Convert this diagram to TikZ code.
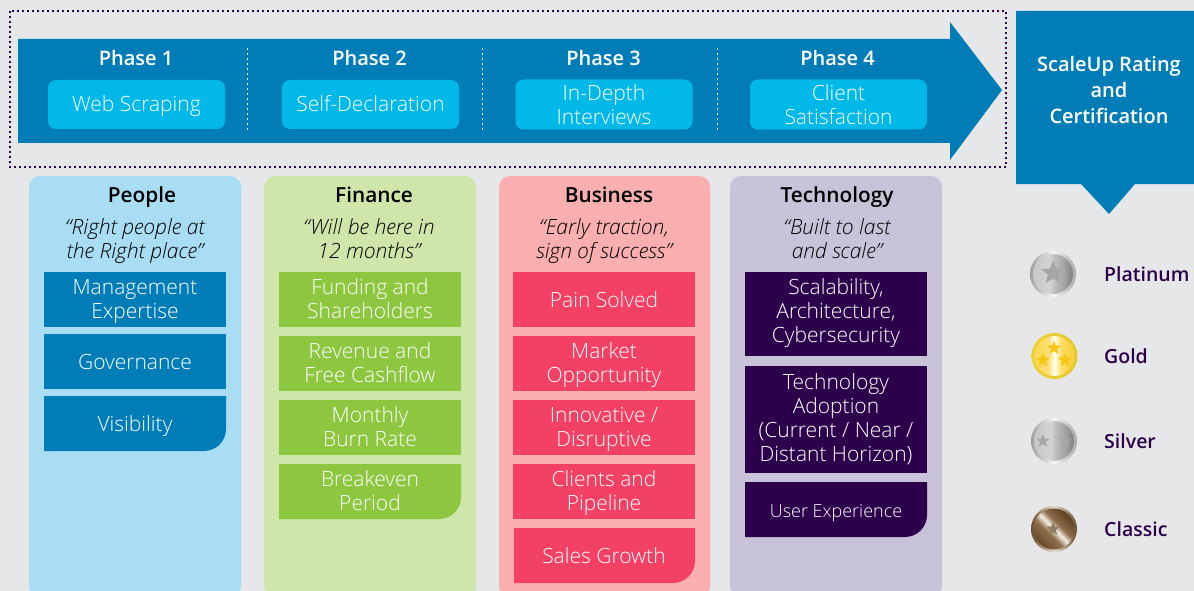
\documentclass[tikz,border=0pt]{standalone}
\usepackage{fontspec}
\setmainfont{Open Sans}
\newfontfamily\lightfont{Open Sans Light}
\newfontfamily\semifont{Open Sans Semibold}
\usetikzlibrary{shapes.geometric}
\definecolor{pagegrey}{HTML}{E6E7E9}
\definecolor{arrowblue}{HTML}{007DB7}
\definecolor{phasecyan}{HTML}{00B9E9}
\definecolor{peoplebg}{HTML}{A8DDF4}
\definecolor{financebg}{HTML}{CFE6AB}
\definecolor{financeitem}{HTML}{8DC63F}
\definecolor{businessbg}{HTML}{F9AFAF}
\definecolor{businessitem}{HTML}{F34165}
\definecolor{techbg}{HTML}{C8C3D8}
\definecolor{techitem}{HTML}{2D004B}
\definecolor{goldstar}{HTML}{F5C518}
\definecolor{silverstar}{HTML}{A6A6A6}
\definecolor{classicstar}{HTML}{8F7B66}
\pgfdeclarehorizontalshading{silvercoin}{100bp}{rgb(0bp)=(.78,.78,.78); rgb(25bp)=(.78,.78,.78); rgb(46bp)=(.83,.83,.83); rgb(54bp)=(.72,.72,.72); rgb(62bp)=(.66,.66,.66); rgb(75bp)=(.50,.50,.50); rgb(100bp)=(.50,.50,.50)}
\pgfdeclarehorizontalshading{goldcoin}{100bp}{rgb(0bp)=(.98,.84,.32); rgb(25bp)=(.98,.84,.32); rgb(42bp)=(.99,.87,.45); rgb(50bp)=(1,1,.95); rgb(58bp)=(.99,.87,.40); rgb(75bp)=(.97,.80,.20); rgb(100bp)=(.97,.80,.20)}
\pgfdeclarehorizontalshading{browncoin}{100bp}{rgb(0bp)=(.40,.29,.17); rgb(25bp)=(.40,.29,.17); rgb(42bp)=(.56,.44,.30); rgb(50bp)=(.96,.94,.90); rgb(58bp)=(.54,.42,.28); rgb(75bp)=(.35,.25,.13); rgb(100bp)=(.35,.25,.13)}
\pgfdeclarehorizontalshading{silverring}{100bp}{rgb(0bp)=(.62,.62,.62); rgb(25bp)=(.62,.62,.62); rgb(50bp)=(.97,.97,.97); rgb(75bp)=(.66,.66,.66); rgb(100bp)=(.66,.66,.66)}
\pgfdeclarehorizontalshading{goldring}{100bp}{rgb(0bp)=(.93,.82,.20); rgb(25bp)=(.93,.82,.20); rgb(75bp)=(.90,.78,.18); rgb(100bp)=(.90,.78,.18)}
\pgfdeclarehorizontalshading{brownring}{100bp}{rgb(0bp)=(.42,.30,.18); rgb(25bp)=(.42,.30,.18); rgb(50bp)=(.90,.86,.80); rgb(75bp)=(.42,.30,.18); rgb(100bp)=(.42,.30,.18)}
\tikzset{
  title/.style={anchor=base,font=\semifont\fontsize{20.8}{26}\selectfont},
  phasetitle/.style={anchor=base,text=white,font=\semifont\fontsize{20}{26}\selectfont},
  textlines/.style={align=center,inner sep=0pt,text height=#1,text depth=5pt},
  phasebox/.style={textlines=#1,fill=phasecyan,rounded corners=8pt,text=white,minimum width=177pt,minimum height=49pt,font=\lightfont\fontsize{21}{24}\selectfont},
  phasebox/.default=19pt,
  quotetext/.style={textlines=43pt,font=\lightfont\itshape\fontsize{21}{24}\selectfont},
  itembox/.style={textlines=#1,text=white,font=\lightfont\fontsize{21}{24}\selectfont,minimum width=182pt,minimum height=55pt},
  itembox/.default=21pt,
  medal/.style={circle,minimum size=#1,inner sep=0pt},
  starmark/.style={star,star points=5,star point ratio=2.3,minimum size=#1,inner sep=0pt},
  medaltext/.style={anchor=base west,text=techitem,inner sep=0pt,font=\semifont\fontsize{19.5}{24}\selectfont},
}
\begin{document}
\begin{tikzpicture}[x=1pt,y=-1pt]
  \useasboundingbox (0,0) rectangle (1194,591);
  \clip (0,0) rectangle (1194,591);
  \fill[pagegrey] (0,0) rectangle (1194,591);
  % phases
  \draw[techitem,line width=1.2pt,dash pattern=on 2pt off 3pt] (10,11) rectangle (1006,167);
  \fill[arrowblue] (18,39) -- (950,39) -- (950,22) -- (1002,90) -- (950,160) -- (950,143) -- (18,143) -- cycle;
  \coordinate (sep1a) at (247,48);
  \coordinate (sep1b) at (247,131);
  \coordinate (sep2a) at (482,48);
  \coordinate (sep2b) at (482,131);
  \coordinate (sep3a) at (717,48);
  \coordinate (sep3b) at (717,131);
  \draw[white,line width=1pt,dash pattern=on 2pt off 3pt] (sep1a) -- (sep1b);
  \draw[white,line width=1pt,dash pattern=on 2pt off 3pt] (sep2a) -- (sep2b);
  \draw[white,line width=1pt,dash pattern=on 2pt off 3pt] (sep3a) -- (sep3b);
  \node[phasetitle] (phaseA) at (136,66) {Phase 1};
  \node[phasetitle] (phaseB) at (369.5,66) {Phase 2};
  \node[phasetitle] (phaseC) at (603.5,66) {Phase 3};
  \node[phasetitle] (phaseD) at (837.5,66) {Phase 4};
  \node[phasebox] (scraping) at (136.5,104.5) {Web Scraping};
  \node[phasebox] (declaration) at (370.5,104.5) {Self-Declaration};
  \node[phasebox=45pt] (interviews) at (604,104.5) {In-Depth\\Interviews};
  \node[phasebox=45pt] (satisfaction) at (838.5,104.5) {Client\\Satisfaction};
  % rating
  \fill[arrowblue] (1016,11) -- (1194,11) -- (1194,184) -- (1135,184) -- (1109,214) -- (1081,184) -- (1016,184) -- cycle;
  \node[font=\semifont\fontsize{20}{26}\selectfont,text=white,align=center] (rating) at (1109,90) {ScaleUp Rating\\and\\Certification};
  % columns
  \fill[peoplebg,rounded corners=11pt] (29,176) rectangle (241,597);
  \fill[financebg,rounded corners=11pt] (264,176) rectangle (476,597);
  \fill[businessbg,rounded corners=11pt] (499,176) rectangle (710,597);
  \fill[techbg,rounded corners=11pt] (730,176) rectangle (942,597);
  \node[title] (people) at (142,202) {People};
  \node[title] (finance) at (374,202) {Finance};
  \node[title] (business) at (609,202) {Business};
  \node[title] (technology) at (837,202) {Technology};
  \node[quotetext] (peopleq) at (135,239.5) {“Right people at\\the Right place”};
  \node[quotetext] (financeq) at (369,239.5) {“Will be here in\\12 months”};
  \node[quotetext] (businessq) at (604,239.5) {“Early traction,\\sign of success”};
  \node[quotetext] (techq) at (837,239.5) {“Built to last\\and scale”};
  % people
  \node[itembox=43pt,fill=arrowblue] (expertise) at (135,299.5) {Management\\Expertise};
  \node[itembox,fill=arrowblue] (governance) at (135,361.5) {Governance};
  \fill[arrowblue] (44,396) -- (226,396) [rounded corners=22pt] -- (226,451) [sharp corners] -- (44,451) -- cycle;
  \node[itembox] (visibility) at (135,423.5) {Visibility};
  % finance
  \node[itembox=43pt,fill=financeitem] (funding) at (370,299.5) {Funding and\\Shareholders};
  \node[itembox=43pt,fill=financeitem] (revenue) at (370,363.5) {Revenue and\\Free Cashflow};
  \node[itembox=43pt,fill=financeitem] (burn) at (370,427.5) {Monthly\\Burn Rate};
  \fill[financeitem] (279,464) -- (461,464) [rounded corners=22pt] -- (461,519) [sharp corners] -- (279,519) -- cycle;
  \node[itembox=43pt] (breakeven) at (370,491.5) {Breakeven\\Period};
  % business
  \node[itembox,fill=businessitem] (pain) at (604,299.5) {Pain Solved};
  \node[itembox=43pt,fill=businessitem] (market) at (604,363.5) {Market\\Opportunity};
  \node[itembox=43pt,fill=businessitem] (innovative) at (604,427.5) {Innovative /\\Disruptive};
  \node[itembox=43pt,fill=businessitem] (clients) at (604,491.5) {Clients and\\Pipeline};
  \fill[businessitem] (514,528) -- (695,528) [rounded corners=22pt] -- (695,583) [sharp corners] -- (514,583) -- cycle;
  \node[itembox] (sales) at (604,555.5) {Sales Growth};
  % technology
  \node[itembox=62pt,fill=techitem,minimum height=84pt] (scalability) at (836,314) {Scalability,\\Architecture,\\Cybersecurity};
  \node[itembox=89pt,fill=techitem,minimum height=107pt] (adoption) at (836,419.5) {Technology\\Adoption\\(Current / Near /\\Distant Horizon)};
  \fill[techitem] (745,482) -- (927,482) [rounded corners=22pt] -- (927,537) [sharp corners] -- (745,537) -- cycle;
  \node[itembox,font=\lightfont\fontsize{18}{24}\selectfont] (experience) at (836,509.5) {User Experience};
  % medals
  \node[medal=46pt,shading=silverring] (platinumring) at (1053,274) {};
  \node[medal=40pt,shading=silvercoin] (platinumcoin) at (1053,274) {};
  \node[starmark=25pt,fill=silverstar] (platinumstar) at (1053,273) {};
  \node[medal=46pt,shading=goldring] (goldring) at (1054.5,356) {};
  \node[medal=40pt,shading=goldcoin] (goldcoin) at (1054.5,356) {};
  \node[starmark=15pt,fill=goldstar] (goldstarA) at (1054,348) {};
  \node[starmark=15pt,fill=goldstar] (goldstarB) at (1043,360) {};
  \node[starmark=15pt,fill=goldstar] (goldstarC) at (1065,360) {};
  \node[medal=46pt,shading=silverring] (silverring) at (1054,441) {};
  \node[medal=40pt,shading=silvercoin] (silvercoin) at (1054,441) {};
  \node[starmark=14pt,fill=silverstar] (silverstarA) at (1043,441) {};
  \node[starmark=14pt,fill=silverstar] (silverstarB) at (1065,441) {};
  \node[medal=46pt,shading=brownring] (classicring) at (1054,529) {};
  \node[medal=41pt,shading=browncoin,shading angle=45] (classiccoin) at (1054,529) {};
  \node[starmark=14pt,fill=classicstar] (classicstar) at (1053,529) {};
  \node[medaltext] (platinum) at (1104,281.5) {Platinum};
  \node[medaltext] (gold) at (1104,363) {Gold};
  \node[medaltext] (silver) at (1104,448) {Silver};
  \node[medaltext] (classic) at (1104,536.5) {Classic};
\end{tikzpicture}
\end{document}
